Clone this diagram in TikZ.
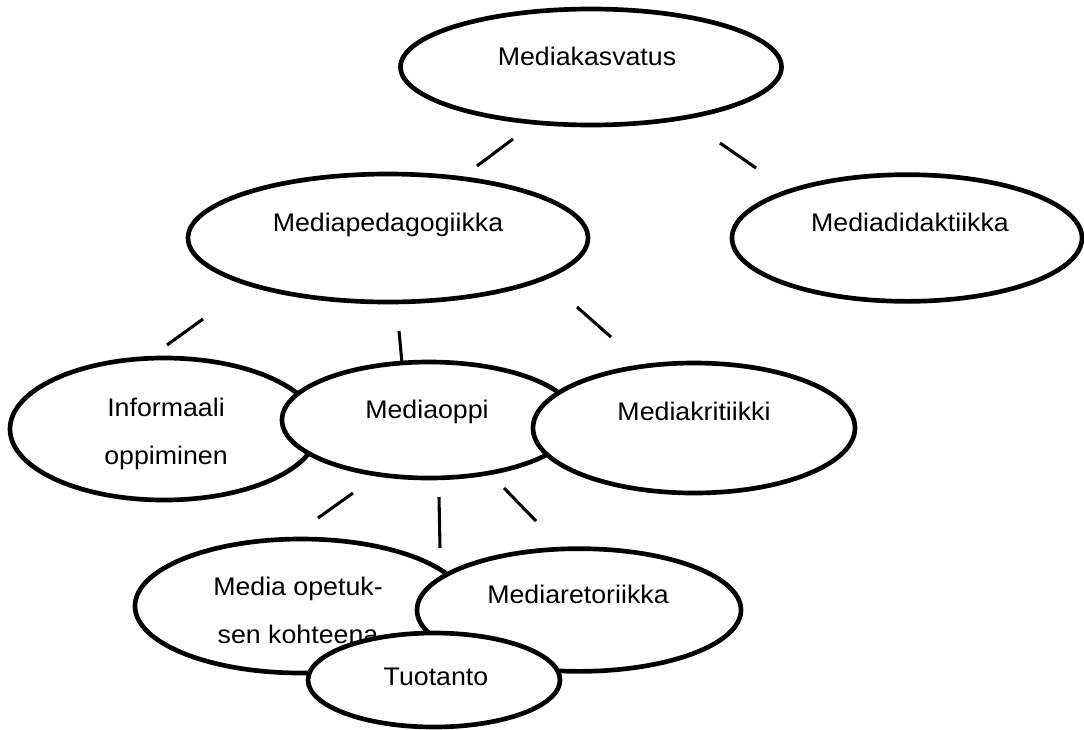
\documentclass[tikz,border=0pt]{standalone}
\usepackage{fontspec}
\setmainfont{Liberation Sans}[FakeStretch=1.05]
\usetikzlibrary{shapes.geometric}
\tikzset{
  ell/.style={ellipse, draw=black, line width=3.5pt, fill=white, inner sep=0pt},
  lbl/.style={anchor=base, inner sep=0pt, font=\fontsize{19.1pt}{35.5pt}\selectfont, align=center},
  conn/.style={line width=2.3pt, black}
}
\begin{document}
\begin{tikzpicture}[x=0.75pt,y=-0.75pt]
\useasboundingbox (0,0) rectangle (1084,729);
% connector end points
\coordinate (c1a) at (477,166); \coordinate (c1b) at (513,139);
\coordinate (c2a) at (720,143); \coordinate (c2b) at (756,168);
\coordinate (c3a) at (167,345); \coordinate (c3b) at (203,319);
\coordinate (c4a) at (399,331); \coordinate (c4b) at (402,363);
\coordinate (c5a) at (577,307); \coordinate (c5b) at (611,337);
\coordinate (c6a) at (318,518); \coordinate (c6b) at (353,493);
\coordinate (c7a) at (439,497); \coordinate (c7b) at (440,548);
\coordinate (c8a) at (504,488); \coordinate (c8b) at (536,521);
\draw[conn] (c1a) -- (c1b);
\draw[conn] (c2a) -- (c2b);
\draw[conn] (c3a) -- (c3b);
\draw[conn] (c4a) -- (c4b);
\draw[conn] (c5a) -- (c5b);
\draw[conn] (c6a) -- (c6b);
\draw[conn] (c7a) -- (c7b);
\draw[conn] (c8a) -- (c8b);
% ellipses and texts
\node[ell, minimum width=285.75pt, minimum height=87pt] (kasv) at (591,67) {};
\node[lbl] (kasvT) at (587,65) {Mediakasvatus};
\node[ell, minimum width=300pt, minimum height=96pt] (ped) at (388,238) {};
\node[lbl] (pedT) at (388,231) {Mediapedagogiikka};
\node[ell, minimum width=262.5pt, minimum height=95pt] (did) at (907,238) {};
\node[lbl] (didT) at (910,231) {Mediadidaktiikka};
\node[ell, minimum width=231pt, minimum height=106.5pt] (inf) at (164,429) {};
\node[lbl] (infT) at (166,464) {Informaali\\oppiminen};
\node[ell, minimum width=220.5pt, minimum height=87pt] (oppi) at (429,420) {};
\node[lbl] (oppiT) at (427,418) {Mediaoppi};
\node[ell, minimum width=241.5pt, minimum height=97.5pt] (krit) at (694,428) {};
\node[lbl] (kritT) at (694,420) {Mediakritiikki};
\node[ell, minimum width=249pt, minimum height=100.5pt] (opet) at (301,606) {};
\node[lbl] (opetT) at (298,643) {Media opetuk-\\sen kohteena};
\node[ell, minimum width=243pt, minimum height=92pt] (reto) at (579,610) {};
\node[lbl] (retoT) at (578,603) {Mediaretoriikka};
\node[ell, minimum width=189pt, minimum height=70.5pt] (tuot) at (434,680) {};
\node[lbl] (tuotT) at (436,685) {Tuotanto};
\end{tikzpicture}
\end{document}
